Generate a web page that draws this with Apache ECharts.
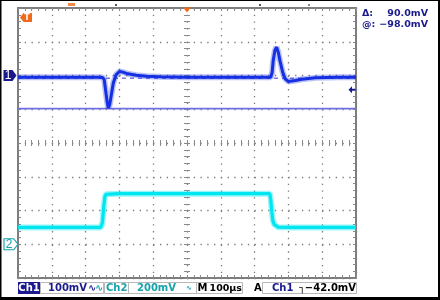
<!DOCTYPE html>
<html><head><meta charset="utf-8">
<script src="https://cdn.jsdelivr.net/npm/echarts@6/dist/echarts.min.js"></script>
<style>html,body{margin:0;padding:0;background:#fff}#c{width:440px;height:300px}</style>
</head><body><div id="c"></div>
<script>
// ---- data (time in µs relative to trigger, values in mV) ----
const ch1Time   = [-500,-400,-300,-260,-250,-245,-240,-236,-233,-229,-224,-218,-210,-200,-190,-175,-150,-120,-80,0,100,200,240,248,252,255,260,265,270,275,283,290,300,305,320,340,380,450,500];
const ch1Values = [-5,-5,-5,-5,-6,-12,-50,-80,-96,-88,-58,-22,2,12,10,5,1,-2,-4,-5,-5,-5,-5,-5,10,44,74,84,69,44,10,-9,-18,-20,-15,-11,-7,-5,-5];
const ch2Time   = [-500,-400,-300,-255,-252,-250,-248,-246,-243,-240,-235,-200,0,200,245,248,251,254,258,263,270,300,400,500];
const ch2Values = [100,100,100,100,102,130,180,230,280,296,300,300,300,300,300,260,190,140,118,107,101,100,100,100];
const cursorAt = -98;
const cursorDelta = 90;
const trigLevel = -42;
const ch1Range = [-600, 200];
const ch2Range = [-200, 1400];
const timeRange = [-500, 500];
const readoutTexts = ['Δ:', '90.0mV', '@:', '−98.0mV'];
const statusTexts = ['Ch1', '100mV', 'Ch2', '200mV', 'M', '100µs', 'A', 'Ch1', '−42.0mV'];

const C1 = '#1530e2', C2 = '#00e6f0', NAVY = '#1a1a8c', TEAL = '#16a2aa';
const frameColor = '#7d7d7d', tickColor = '#8a8a8a', dotColor = '#7a7a7a';
const zip = (a, b) => a.map((t, i) => [t, b[i]]);
const gridRect = {left: 18, top: 8, width: 338, height: 270};
const dotType = [1.3, 5.46];

function frameX(pos, split) {
  return {gridIndex: 0, type: 'value', min: timeRange[0], max: timeRange[1], interval: 100, position: pos,
    axisLine: {onZero: false, lineStyle: {color: frameColor, width: 2}},
    axisTick: {inside: true, length: 3, lineStyle: {color: tickColor}},
    minorTick: {show: true, splitNumber: 5, length: 3, lineStyle: {color: tickColor}},
    axisLabel: {show: false},
    splitLine: {show: split, lineStyle: {color: dotColor, width: 1.3, type: dotType}}};
}
function frameY(pos, range, iv, split) {
  return {gridIndex: 0, type: 'value', min: range[0], max: range[1], interval: iv, position: pos,
    axisLine: {onZero: false, lineStyle: {color: frameColor, width: 2}},
    axisTick: {inside: true, length: 3, lineStyle: {color: tickColor}},
    minorTick: {show: true, splitNumber: 5, length: 3, lineStyle: {color: tickColor}},
    axisLabel: {show: false},
    splitLine: {show: split, lineStyle: {color: dotColor, width: 1.3, type: dotType}}};
}
function centerX(g, inside) {
  return {gridIndex: g, type: 'value', min: timeRange[0], max: timeRange[1], interval: 100,
    axisLine: {show: true, onZero: true, lineStyle: {opacity: 0}},
    axisTick: {inside: inside, length: 3, lineStyle: {color: tickColor}},
    minorTick: {show: true, splitNumber: 5, length: 3, lineStyle: {color: tickColor}},
    axisLabel: {show: false}, splitLine: {show: false}};
}
function centerY(g, inside) {
  return {gridIndex: g, type: 'value', min: -4, max: 4, interval: 1,
    axisLine: {show: true, onZero: true, lineStyle: {opacity: 0}},
    axisTick: {inside: inside, length: 3, lineStyle: {color: tickColor}},
    minorTick: {show: true, splitNumber: 5, length: 3, lineStyle: {color: tickColor}},
    axisLabel: {show: false}, splitLine: {show: false}};
}
const F = 'bold 10px "DejaVu Sans"';
function T(x, y, text, color, align, font) {
  return {type: 'text', x: x, y: y, z: 20,
    style: {text: text, fill: color, font: font || F, align: align || 'left', verticalAlign: 'middle',
            textAlign: align || 'left', textVerticalAlign: 'middle'}};
}
function box(x, y, w, h, stroke, fill) {
  return {type: 'rect', z: 15, shape: {x: x, y: y, width: w, height: h},
    style: {stroke: stroke || 'none', fill: fill || 'none', lineWidth: 1}};
}
const FR = 'bold 9.5px "DejaVu Sans"';

const gndPath = 'path://M0,0 L9,0 L13,5.5 L9,11 L0,11 Z';
const option = {
  animation: false,
  grid: [Object.assign({}, gridRect), Object.assign({}, gridRect), Object.assign({}, gridRect)],
  xAxis: [frameX('bottom', true), frameX('top', false), centerX(1, true), centerX(2, false)],
  yAxis: [frameY('left', ch1Range, 100, true), frameY('right', ch2Range, 200, false), centerY(1, true), centerY(2, false)],
  series: [
    {type: 'line', xAxisIndex: 0, yAxisIndex: 0, z: 2, symbol: 'none', silent: true,
      data: [[timeRange[0], cursorAt], [timeRange[1], cursorAt]],
      lineStyle: {color: '#6f6fe4', width: 1.6}},
    {type: 'line', xAxisIndex: 0, yAxisIndex: 0, z: 2, symbol: 'none', silent: true,
      data: [[timeRange[0], cursorAt + cursorDelta], [timeRange[1], cursorAt + cursorDelta]],
      lineStyle: {color: '#6f6fe4', width: 1.4, type: [4, 4]}},
    {type: 'line', xAxisIndex: 0, yAxisIndex: 0, z: 3, symbol: 'none', silent: true,
      data: zip(ch1Time, ch1Values), lineStyle: {color: C1, width: 6, opacity: 0.3}},
    {type: 'line', xAxisIndex: 0, yAxisIndex: 0, z: 4, symbol: 'none', silent: true,
      data: zip(ch1Time, ch1Values), lineStyle: {color: C1, width: 3},
      markPoint: {silent: true, animation: false, data: [
        {coord: [timeRange[0], 0], symbol: gndPath, symbolSize: [13, 11], symbolOffset: [-8, 0],
          itemStyle: {color: NAVY},
          label: {show: true, formatter: '1', color: '#fff', font: 'bold 9px "DejaVu Sans"', offset: [-2, 0]}},
        {coord: [timeRange[1], trigLevel], symbol: 'path://M0,5 L5,0 L5,3.5 L10,3.5 L10,6.5 L5,6.5 L5,10 Z',
          symbolSize: [7, 7], symbolOffset: [-4, 0], itemStyle: {color: NAVY}, label: {show: false}},
        {coord: [0, ch1Range[1]], symbol: 'triangle', symbolRotate: 180, symbolSize: [8, 5], symbolOffset: [0, 2],
          itemStyle: {color: '#f06a1c'}, label: {show: false}}
      ]}},
    {type: 'line', xAxisIndex: 0, yAxisIndex: 1, z: 3, symbol: 'none', silent: true,
      data: zip(ch2Time, ch2Values), lineStyle: {color: C2, width: 6, opacity: 0.4}},
    {type: 'line', xAxisIndex: 0, yAxisIndex: 1, z: 4, symbol: 'none', silent: true,
      data: zip(ch2Time, ch2Values), lineStyle: {color: C2, width: 3.2},
      markPoint: {silent: true, animation: false, data: [
        {coord: [timeRange[0], 0], symbol: gndPath, symbolSize: [14, 11], symbolOffset: [-7, 0],
          itemStyle: {color: '#fff', borderColor: TEAL, borderWidth: 1},
          label: {show: true, formatter: '2', color: TEAL, font: 'bold 9px "DejaVu Sans"', offset: [-2, 0]}}
      ]}}
  ],
  graphic: [
    {type: 'rect', z: 30, shape: {x: 0, y: 0, width: 440, height: 1}, style: {fill: '#000'}},
    {type: 'rect', z: 30, shape: {x: 0, y: 0, width: 1.5, height: 300}, style: {fill: '#000'}},
    {type: 'rect', z: 30, shape: {x: 438, y: 0, width: 2, height: 300}, style: {fill: '#000'}},
    {type: 'rect', z: 30, shape: {x: 0, y: 297, width: 440, height: 3}, style: {fill: '#000'}},
    {type: 'polygon', z: 20, shape: {points: [[20, 17.5], [23.5, 13], [32, 13], [32, 22], [23.5, 22]]}, style: {fill: '#f06a1c'}},
    {type: 'text', x: 27, y: 17.8, z: 21, style: {text: 'T', fill: '#fff', font: 'bold 8px "DejaVu Sans"', align: 'center', verticalAlign: 'middle', textAlign: 'center', textVerticalAlign: 'middle'}},
    {type: 'rect', z: 20, shape: {x: 68, y: 3, width: 7, height: 3}, style: {fill: '#f08a4c'}},
    {type: 'rect', z: 20, shape: {x: 115, y: 4, width: 2, height: 2}, style: {fill: '#555'}},
    {type: 'rect', z: 20, shape: {x: 259, y: 4, width: 2, height: 2}, style: {fill: '#555'}},
    {type: 'rect', z: 20, shape: {x: 308, y: 4, width: 2, height: 2}, style: {fill: '#888'}},
    T(362, 14, readoutTexts[0], NAVY, 'left', FR), T(428, 14, readoutTexts[1], NAVY, 'right', FR),
    T(362, 25, readoutTexts[2], NAVY, 'left', FR), T(428, 25, readoutTexts[3], NAVY, 'right', FR),
    box(18, 282, 22, 12, null, NAVY),
    box(40.5, 282.5, 63, 11, '#b8b8b8'),
    box(104.5, 282.5, 24, 11, '#b8b8b8'),
    box(128.5, 282.5, 68, 11, '#b8b8b8'),
    box(196.5, 282.5, 46, 11, '#b8b8b8'),
    box(262.5, 282.5, 94, 11, '#b8b8b8'),
    T(29, 288.5, statusTexts[0], '#fff', 'center'),
    T(87, 288.5, statusTexts[1], NAVY, 'right'),
    T(88, 288.5, '∿', NAVY), T(95, 288.5, '∿', TEAL),
    T(106, 288.5, statusTexts[2], TEAL),
    T(176, 288.5, statusTexts[3], TEAL, 'right'),
    T(186, 288.5, '∿', TEAL, 'left', 'bold 7px "DejaVu Sans"'),
    T(197.5, 288.5, statusTexts[4], '#000'),
    T(242, 288.5, statusTexts[5], '#000', 'right', 'bold 9.5px "DejaVu Sans"'),
    T(254, 288.5, statusTexts[6], '#000'),
    T(272, 288.5, statusTexts[7], NAVY),
    T(299, 288.5, '┐', '#000'),
    T(356, 288.5, statusTexts[8], '#000', 'right')
  ]
};
const chart = echarts.init(document.getElementById('c'), null, {renderer: 'canvas'});
chart.setOption(option);
</script>
</body></html>
